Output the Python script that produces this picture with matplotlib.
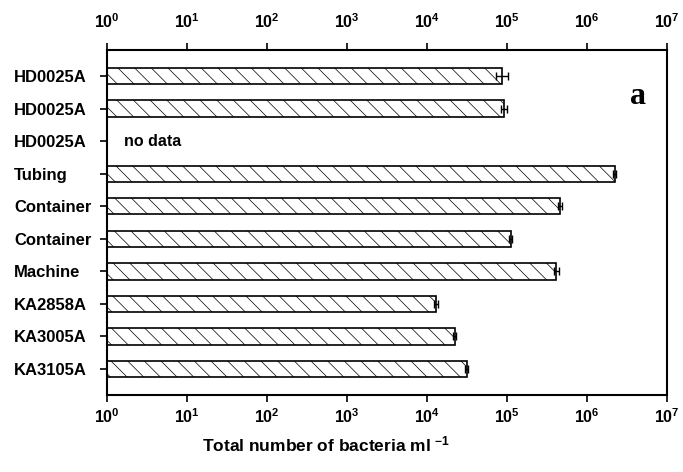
import matplotlib.pyplot as plt
import numpy as np

plt.rcParams['font.family'] = ['Liberation Sans', 'DejaVu Sans']
plt.rcParams['font.weight'] = 'bold'
plt.rcParams['mathtext.fontset'] = 'custom'
plt.rcParams['mathtext.rm'] = 'Liberation Sans:bold'
plt.rcParams['mathtext.bf'] = 'Liberation Sans:bold'
plt.rcParams['mathtext.it'] = 'Liberation Sans:bold:italic'
plt.rcParams['mathtext.default'] = 'rm'
plt.rcParams['hatch.color'] = '#a0a0a0'
plt.rcParams['hatch.linewidth'] = 0.5

# data (top to bottom)
sites = ['HD0025A', 'HD0025A', 'HD0025A', 'Tubing', 'Container', 'Container',
         'Machine', 'KA2858A', 'KA3005A', 'KA3105A']
counts = [8.7e4, 9.2e4, np.nan, 2.2e6, 4.6e5, 1.1e5, 4.1e5, 1.3e4, 2.2e4, 3.1e4]
errors = [1.5e4, 8e3, np.nan, 8e4, 3e4, 4e3, 3e4, 8e2, 1e3, 1.5e3]

fig = plt.figure(figsize=(6.83, 4.72), dpi=100)
ax = fig.add_axes([0.157, 0.163, 0.82, 0.731])

y = np.arange(len(sites))
bar_vals = [0 if np.isnan(v) else v for v in counts]
ax.barh(y, bar_vals, left=1, height=0.5, color='white', edgecolor='black',
        linewidth=1.2, hatch='\\\\')
for yi, v, e in zip(y, counts, errors):
    if not np.isnan(v):
        ax.errorbar(v, yi, xerr=e, fmt='none', ecolor='black', elinewidth=1,
                    capsize=3, capthick=1)

ax.text(1.6, 2, 'no data', ha='left', va='center', fontsize=11.5, fontweight='bold')
ax.text(0.948, 0.864, 'a', transform=ax.transAxes, ha='center', va='center',
        fontsize=23, fontweight='bold', family='Liberation Serif')

ax.set_xscale('log')
ax.set_xlim(1, 1e7)
ax.set_ylim(9.8, -0.8)
ax.set_yticks(y)
ax.set_yticklabels(sites, fontsize=12, fontweight='bold', ha='left')
ax.set_xticks([10.0 ** k for k in range(8)])
ax.minorticks_off()
ax.tick_params(axis='y', which='both', length=5, width=1.2, pad=62)
ax.tick_params(axis='x', which='major', length=5, width=1.2, labelsize=11.5,
               top=True, labeltop=True, pad=4)
for lab in ax.get_xticklabels():
    lab.set_fontweight('bold')
for t in ax.xaxis.get_major_ticks():
    t.label2.set_y(1.02)
for sp in ax.spines.values():
    sp.set_linewidth(1.5)

ax.set_xlabel(r'Total number of bacteria ml $^{-1}$', fontsize=12.5,
              fontweight='bold')
ax.xaxis.set_label_coords(0.39, -0.115)

fig.savefig('out.png', dpi=100)
